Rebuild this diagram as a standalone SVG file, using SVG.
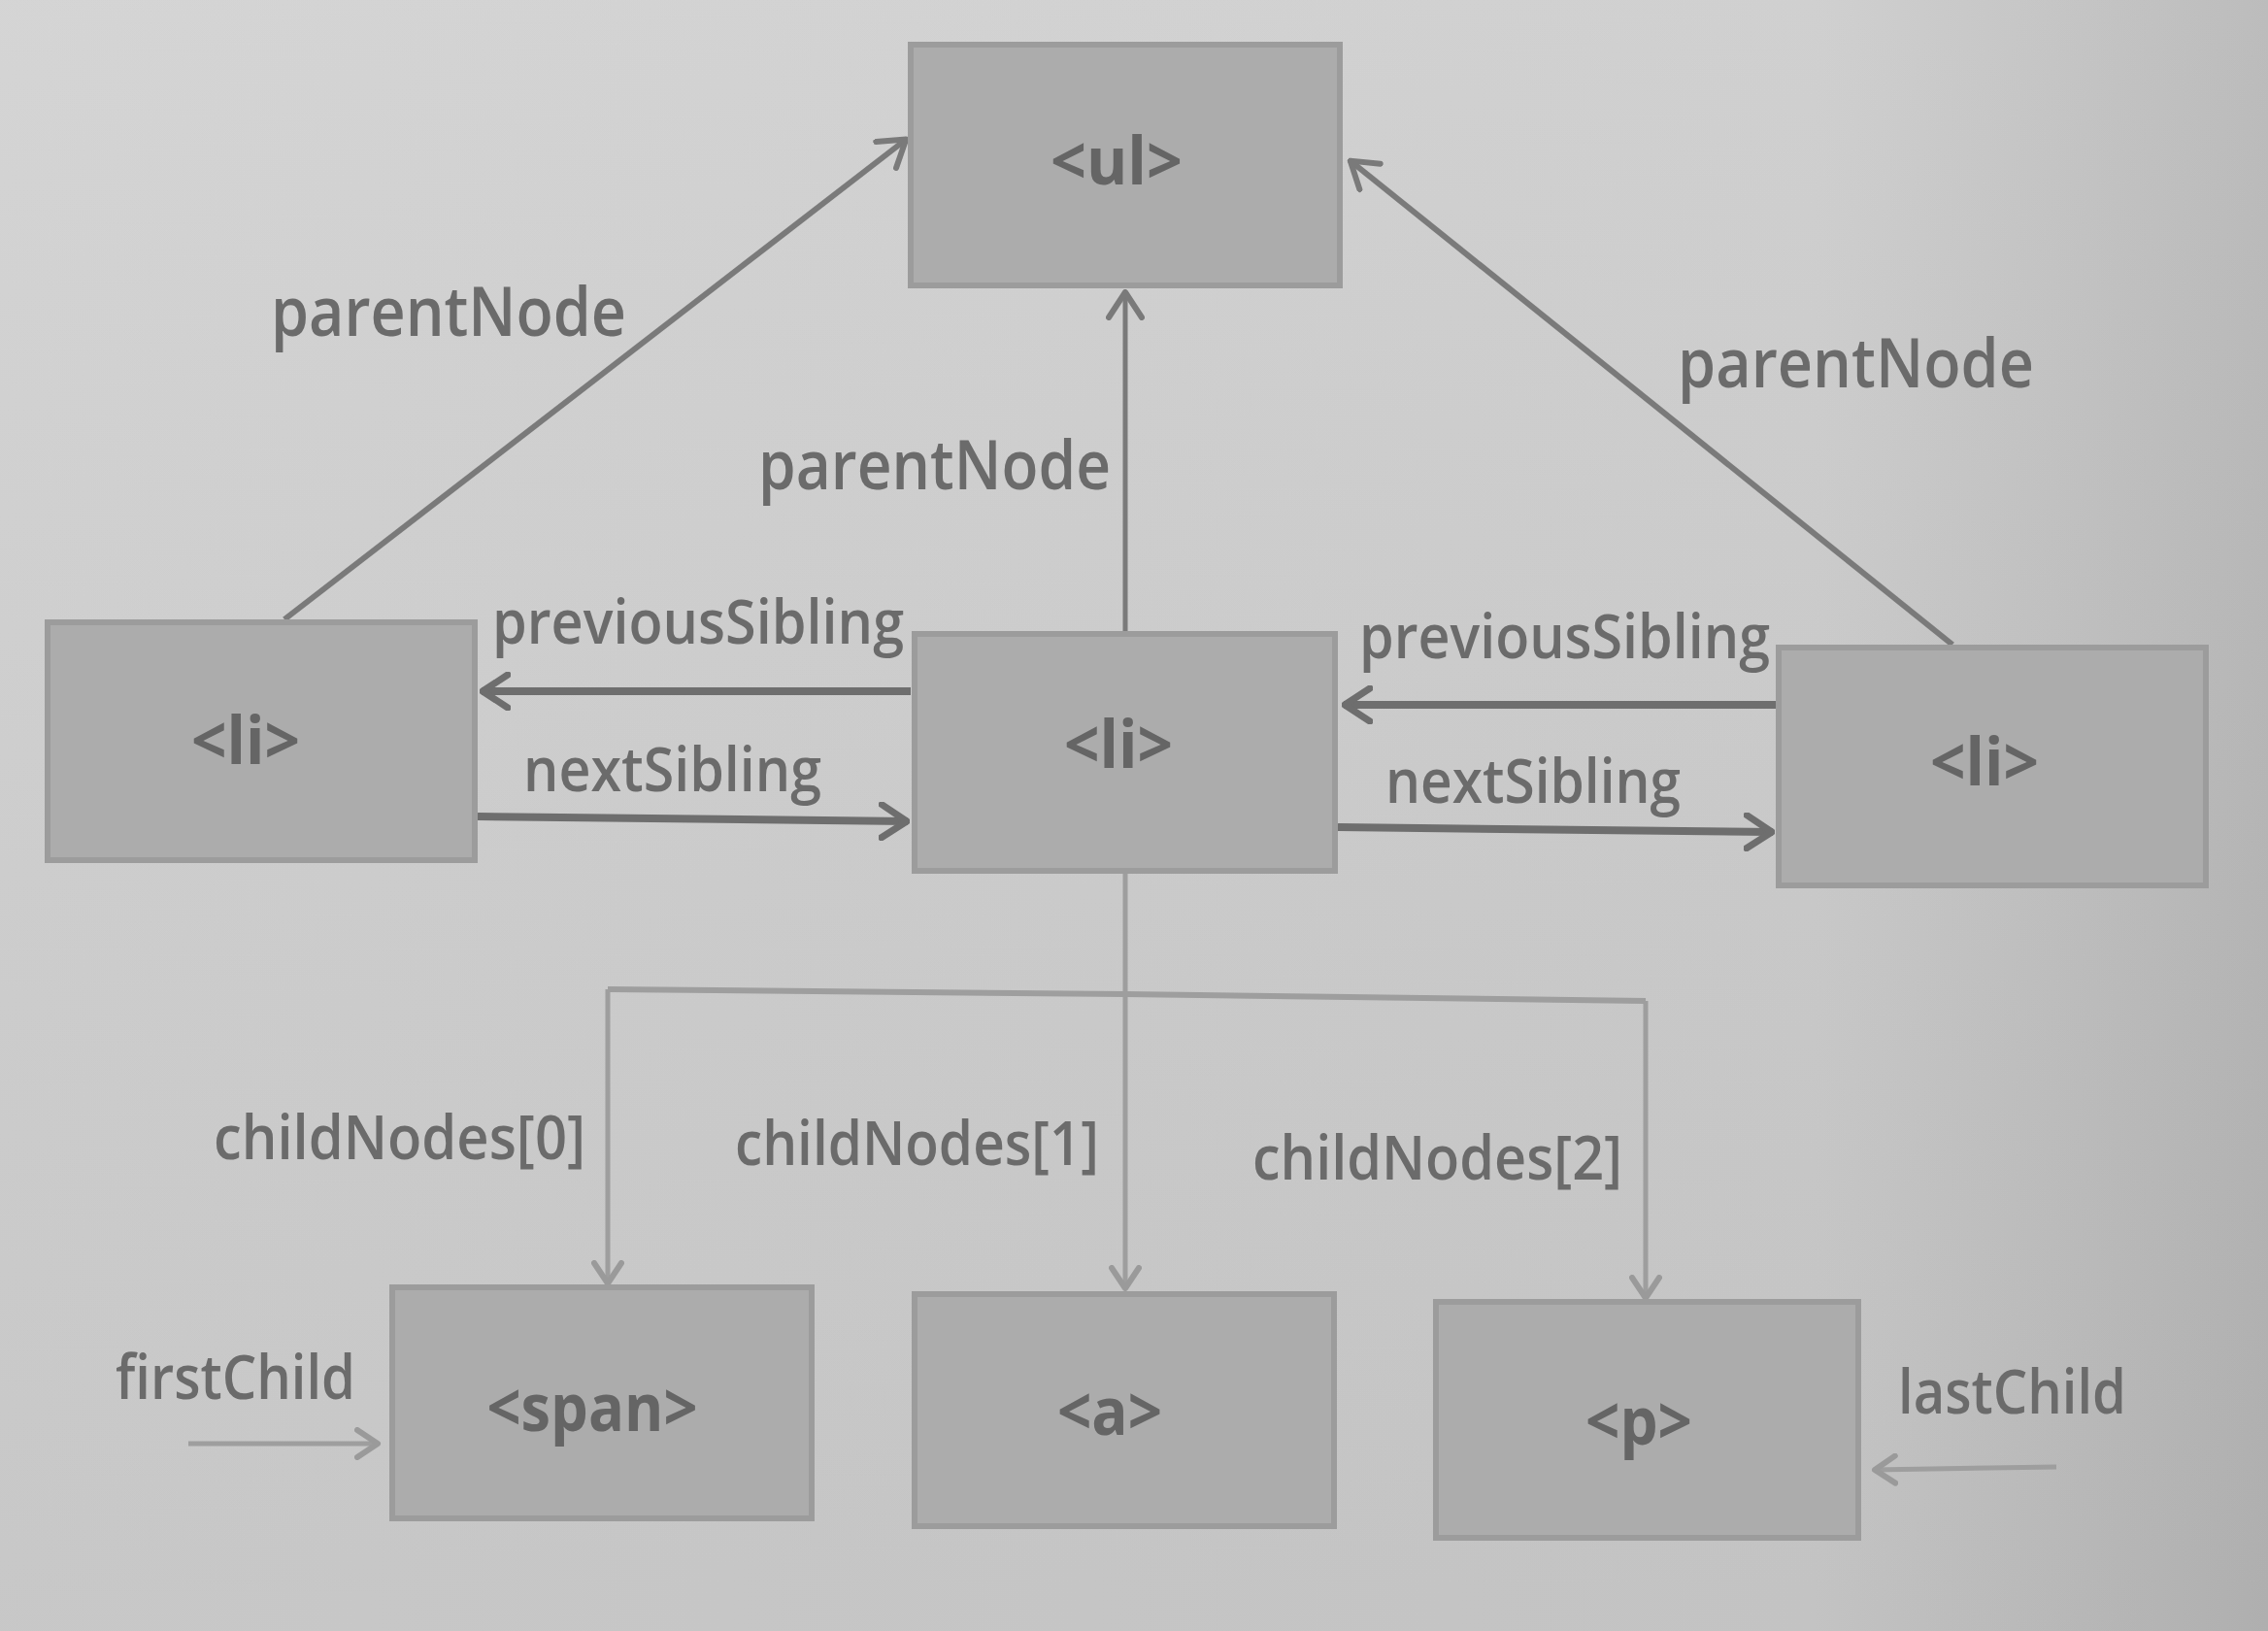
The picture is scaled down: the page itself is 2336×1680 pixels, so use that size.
<svg xmlns="http://www.w3.org/2000/svg" width="2336" height="1680" viewBox="0 0 2336 1680">
<defs>
<linearGradient id="bg" x1="0" y1="0" x2="1" y2="0">
<stop offset="0" stop-color="#d2d2d2"/>
<stop offset="0.8" stop-color="#cdcdcd"/>
<stop offset="1" stop-color="#b8b8b8"/>
</linearGradient>
<linearGradient id="bgv" x1="0" y1="0" x2="0" y2="1">
<stop offset="0" stop-color="#ffffff" stop-opacity="0.06"/>
<stop offset="1" stop-color="#000000" stop-opacity="0.05"/>
</linearGradient>
<marker id="ahDark" viewBox="0 0 32 40" refX="30" refY="20" markerWidth="32" markerHeight="40" markerUnits="userSpaceOnUse" orient="auto">
<path d="M3,3 L29,20 L3,37" fill="none" stroke="#6e6e6e" stroke-width="7" stroke-linecap="round" stroke-linejoin="round"/>
</marker>
<marker id="ahMid" viewBox="0 0 32 40" refX="30" refY="20" markerWidth="32" markerHeight="40" markerUnits="userSpaceOnUse" orient="auto">
<path d="M3,3 L29,20 L3,37" fill="none" stroke="#7a7a7a" stroke-width="6" stroke-linecap="round" stroke-linejoin="round"/>
</marker>
<marker id="ahLight" viewBox="0 0 28 34" refX="25" refY="17" markerWidth="28" markerHeight="34" markerUnits="userSpaceOnUse" orient="auto">
<path d="M3,3 L24,17 L3,31" fill="none" stroke="#9a9a9a" stroke-width="6" stroke-linecap="round" stroke-linejoin="round"/>
</marker>
</defs>
<style>
.box{fill:#acacac;stroke:#9c9c9c;stroke-width:6}
.nl{font-family:"Open Sans","Liberation Sans",sans-serif;font-weight:bold;font-size:68px;fill:#656565;text-anchor:middle}
.lb{font-family:"Open Sans","Liberation Sans",sans-serif;font-weight:600;font-size:64px;fill:#6b6b6b}
.lbp{font-family:"Open Sans","Liberation Sans",sans-serif;font-weight:600;font-size:71px;fill:#6b6b6b}
.parent{fill:none;stroke:#7a7a7a;stroke-width:6;marker-end:url(#ahMid)}
.parentV{fill:none;stroke:#7a7a7a;stroke-width:5;marker-end:url(#ahMid)}
.sib{fill:none;stroke:#6e6e6e;stroke-width:8;marker-end:url(#ahDark)}
.child{fill:none;stroke:#9e9e9e;stroke-width:6}
.childA{fill:none;stroke:#9e9e9e;stroke-width:5;marker-end:url(#ahLight)}
</style>
<rect x="0" y="0" width="2336" height="1680" fill="url(#bg)"/>
<rect x="0" y="0" width="2336" height="1680" fill="url(#bgv)"/>

<g id="connectors">
<line class="parent" x1="293" y1="638" x2="934" y2="143"/>
<line class="parentV" x1="1159" y1="653" x2="1159" y2="300"/>
<line class="parent" x1="2011" y1="664" x2="1390" y2="165"/>
<line class="sib" x1="938" y1="712" x2="496" y2="712"/>
<line class="sib" x1="492" y1="841" x2="935" y2="846"/>
<line class="sib" x1="1832" y1="726" x2="1384" y2="726"/>
<line class="sib" x1="1378" y1="852" x2="1826" y2="857"/>
<line class="childA" x1="1159" y1="897" x2="1159" y2="1328"/>
<polyline class="child" points="626,1019 1159,1024 1695,1031"/>
<line class="childA" x1="626" y1="1019" x2="626" y2="1323"/>
<line class="childA" x1="1695" y1="1031" x2="1695" y2="1338"/>
<line class="childA" x1="194" y1="1487" x2="390" y2="1487"/>
<line class="childA" x1="2118" y1="1511" x2="1930" y2="1514"/>
</g>

<g id="node-ul">
<rect class="box" x="938" y="46" width="442" height="248"/>
<text class="nl" x="1150" y="190" textLength="136" lengthAdjust="spacingAndGlyphs">&lt;ul&gt;</text>
</g>
<g id="node-li-left">
<rect class="box" x="49" y="641" width="440" height="245"/>
<text class="nl" x="253" y="787" textLength="112" lengthAdjust="spacingAndGlyphs">&lt;li&gt;</text>
</g>
<g id="node-li-mid">
<rect class="box" x="942" y="653" width="433" height="244"/>
<text class="nl" x="1152" y="791" textLength="112" lengthAdjust="spacingAndGlyphs">&lt;li&gt;</text>
</g>
<g id="node-li-right">
<rect class="box" x="1832" y="667" width="440" height="245"/>
<text class="nl" x="2044" y="809" textLength="112" lengthAdjust="spacingAndGlyphs">&lt;li&gt;</text>
</g>
<g id="node-span">
<rect class="box" x="404" y="1326" width="432" height="238"/>
<text class="nl" x="610" y="1474" textLength="217" lengthAdjust="spacingAndGlyphs">&lt;span&gt;</text>
</g>
<g id="node-a">
<rect class="box" x="942" y="1333" width="432" height="239"/>
<text class="nl" x="1143" y="1478" textLength="108" lengthAdjust="spacingAndGlyphs">&lt;a&gt;</text>
</g>
<g id="node-p">
<rect class="box" x="1479" y="1341" width="435" height="243"/>
<text class="nl" x="1688" y="1488" textLength="110" lengthAdjust="spacingAndGlyphs">&lt;p&gt;</text>
</g>

<g id="labels">
<text class="lbp" x="279" y="346" textLength="366" lengthAdjust="spacingAndGlyphs">parentNode</text>
<text class="lbp" x="781" y="504" textLength="363" lengthAdjust="spacingAndGlyphs">parentNode</text>
<text class="lbp" x="1728" y="399" textLength="367" lengthAdjust="spacingAndGlyphs">parentNode</text>
<text class="lb" x="507" y="663" textLength="424" lengthAdjust="spacingAndGlyphs">previousSibling</text>
<text class="lb" x="539" y="815" textLength="307" lengthAdjust="spacingAndGlyphs">nextSibling</text>
<text class="lb" x="1400" y="678" textLength="423" lengthAdjust="spacingAndGlyphs">previousSibling</text>
<text class="lb" x="1427" y="827" textLength="304" lengthAdjust="spacingAndGlyphs">nextSibling</text>
<text class="lb" x="220" y="1194" textLength="383" lengthAdjust="spacingAndGlyphs">childNodes[0]</text>
<text class="lb" x="757" y="1200" textLength="375" lengthAdjust="spacingAndGlyphs">childNodes[1]</text>
<text class="lb" x="1290" y="1215" textLength="381" lengthAdjust="spacingAndGlyphs">childNodes[2]</text>
<text class="lb" x="119" y="1441" textLength="247" lengthAdjust="spacingAndGlyphs">firstChild</text>
<text class="lb" x="1955" y="1456" textLength="235" lengthAdjust="spacingAndGlyphs">lastChild</text>
</g>
</svg>
